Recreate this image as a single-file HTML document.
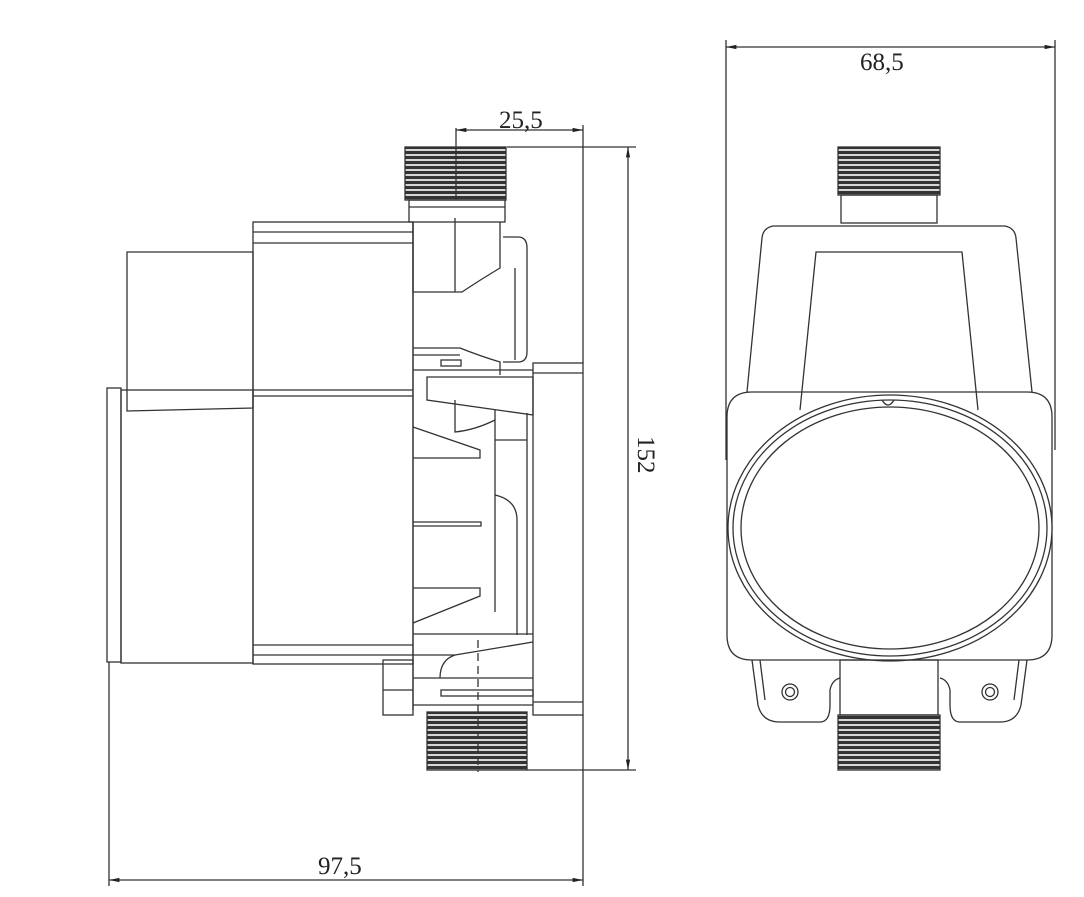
<!DOCTYPE html>
<html><head><meta charset="utf-8"><style>
html,body{margin:0;padding:0;background:#fff;}
svg{display:block;}
text{font-family:"Liberation Serif",serif;font-size:25px;fill:#222;}
</style></head><body>
<svg width="1084" height="897" viewBox="0 0 1084 897" xmlns="http://www.w3.org/2000/svg">
<defs>
<pattern id="thr" width="10" height="5" patternUnits="userSpaceOnUse">
<rect width="10" height="5" fill="#fff"/><rect y="0.8" width="10" height="3.4" fill="#333"/>
</pattern>
<marker id="ar" viewBox="0 0 10 10" refX="10" refY="5" markerWidth="8" markerHeight="8" orient="auto-start-reverse"><path d="M0,3 L10,5 L0,7 z" fill="#222"/></marker>
</defs>
<g fill="none" stroke="#333" stroke-width="1.3">
<!-- LEFT VIEW -->
<rect x="107" y="388" width="14" height="274"/>
<rect x="121" y="390" width="132" height="273"/>
<path d="M127,252 H253 V408 L127,411 Z"/>
<rect x="253" y="222" width="160" height="442"/>
<line x1="253" y1="232" x2="413" y2="232"/><line x1="253" y1="243" x2="413" y2="243"/>
<line x1="253" y1="390" x2="413" y2="390"/><line x1="253" y1="396" x2="413" y2="396"/>
<line x1="253" y1="645" x2="413" y2="645"/><line x1="253" y1="655" x2="413" y2="655"/>
<rect x="405" y="147" width="101" height="53" fill="url(#thr)"/>
<rect x="409" y="200" width="96" height="22"/>
<line x1="409" y1="207" x2="505" y2="207"/>
<path d="M413,222 V292 H462 Q480,280 500,268 V222"/>
<line x1="455" y1="218" x2="455" y2="292"/>
<path d="M503,237 H518 Q527,237 527,248 V352 Q527,362 518,362 H503"/>
<line x1="515" y1="268" x2="515" y2="360"/>
<path d="M413,348 H460 Q480,356 500,362 V375"/>
<line x1="413" y1="355" x2="460" y2="355"/>
<rect x="441" y="360" width="20" height="6"/>
<line x1="413" y1="370" x2="533" y2="370"/>
<path d="M427,377 H533 V415 L427,400 Z"/>
<path d="M455,400 V432 Q475,430 495,420"/>
<line x1="495" y1="410" x2="495" y2="612"/>
<path d="M495,440 H527"/>
<line x1="527" y1="413" x2="527" y2="635"/>
<path d="M495,495 Q517,500 517,520 V635"/>
<path d="M413,427 L480,450 V458 H413"/>
<path d="M413,522 H481 V526 H413"/>
<path d="M413,588 H480 V596 L413,623"/>
<line x1="413" y1="634" x2="533" y2="634"/>
<path d="M533,642 L455,655 Q440,660 440,678"/>
<line x1="413" y1="655" x2="455" y2="655"/>
<line x1="413" y1="678" x2="533" y2="678"/>
<rect x="441" y="690" width="92" height="6"/>
<line x1="413" y1="705" x2="533" y2="705"/>
<rect x="383" y="660" width="30" height="55"/>
<line x1="383" y1="690" x2="413" y2="690"/>
<line x1="413" y1="222" x2="413" y2="710"/>
<rect x="533" y="363" width="50" height="352"/>
<line x1="533" y1="373" x2="583" y2="373"/><line x1="533" y1="702" x2="583" y2="702"/>
<rect x="427" y="712" width="100" height="58" fill="url(#thr)"/>
<line x1="478" y1="640" x2="478" y2="772" stroke-dasharray="8,5"/>
<line x1="456" y1="128" x2="456" y2="200"/>
<line x1="456" y1="130" x2="583" y2="130" marker-start="url(#ar)" marker-end="url(#ar)"/>
<line x1="583" y1="125" x2="583" y2="363"/>
<line x1="583" y1="715" x2="583" y2="886"/>
<line x1="507" y1="147" x2="636" y2="147"/>
<line x1="527" y1="770" x2="636" y2="770"/>
<line x1="628" y1="147" x2="628" y2="770" marker-start="url(#ar)" marker-end="url(#ar)"/>
<line x1="109" y1="662" x2="109" y2="886"/>
<line x1="109" y1="880" x2="583" y2="880" marker-start="url(#ar)" marker-end="url(#ar)"/>
<!-- RIGHT VIEW -->
<line x1="726" y1="40" x2="726" y2="460"/>
<line x1="1055" y1="40" x2="1055" y2="450"/>
<line x1="726" y1="47" x2="1055" y2="47" marker-start="url(#ar)" marker-end="url(#ar)"/>
<rect x="838" y="147" width="102" height="48" fill="url(#thr)"/>
<rect x="841" y="195" width="96" height="28"/>
<path d="M747,392 L762,238 Q763,228 773,226 L1005,226 Q1015,228 1016,238 L1032,392"/>
<path d="M800,410 L816,252 H962 L978,410"/>
<path d="M752,392 H1027 Q1052,392 1052,417 V635 Q1052,660 1027,660 H752 Q727,660 727,635 V417 Q727,392 752,392" fill="none"/>
<line x1="727" y1="417" x2="747" y2="392" stroke="none"/>
<ellipse cx="890" cy="528" rx="162" ry="133" fill="#fff"/>
<ellipse cx="890" cy="528" rx="157" ry="128"/>
<ellipse cx="890" cy="528" rx="149" ry="121"/>
<path d="M882,400 Q888,410 894,400"/>
<rect x="840" y="660" width="98" height="55"/>
<rect x="838" y="715" width="102" height="55" fill="url(#thr)"/>
<path d="M752,660 L758,705 Q762,722 780,722 H820 Q830,722 830,705 V690 Q832,680 840,678"/>
<path d="M1027,660 L1021,705 Q1017,722 1000,722 H960 Q950,722 950,705 V690 Q948,680 940,678"/>
<path d="M760,660 L765,700 M1019,660 L1014,700"/>
<circle cx="790" cy="692" r="8"/><circle cx="790" cy="692" r="4.5"/>
<circle cx="990" cy="692" r="8"/><circle cx="990" cy="692" r="4.5"/>
</g>
<text x="499" y="128">25,5</text>
<text x="318" y="874">97,5</text>
<text x="860" y="70">68,5</text>
<text x="0" y="0" transform="translate(638,436) rotate(90)">152</text>
</svg>
</body></html>
